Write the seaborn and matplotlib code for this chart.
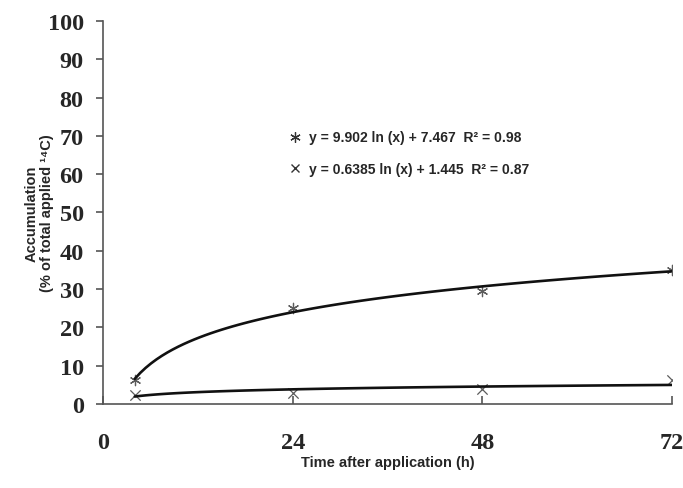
import matplotlib
matplotlib.use("Agg")
import matplotlib.pyplot as plt
import numpy as np
import pandas as pd
import seaborn as sns
from matplotlib.lines import Line2D

sns.set_style("white")

hours = [4, 24, 48, 72]
upper = [6.3, 25.0, 29.5, 35.0]
lower = [2.4, 2.8, 3.8, 6.2]
eq_upper = "y = 9.902 ln (x) + 7.467  R² = 0.98"
eq_lower = "y = 0.6385 ln (x) + 1.445  R² = 0.87"
xticks = [0, 24, 48, 72]
yticks = list(range(0, 101, 10))

df = pd.DataFrame({"h": hours, "upper": upper, "lower": lower})

fig = plt.figure(figsize=(6.83, 4.89), dpi=100)
ax = fig.add_axes([0.151, 0.172, 0.833, 0.783])

star = (6, 2, 0)
for col, mk in [("upper", star), ("lower", "x")]:
    sns.regplot(data=df, x="h", y=col, logx=True, ci=None, ax=ax,
                marker=mk, color="#111111",
                scatter_kws={"s": 55, "linewidths": 0.9, "color": "#333333"},
                line_kws={"lw": 1.9, "color": "#111111"})

ax.set_xlim(0, 72)
ax.set_ylim(0, 100)
ax.set_xticks(xticks)
ax.set_yticks(yticks)
for s in ["top", "right"]:
    ax.spines[s].set_visible(False)
for s in ["left", "bottom"]:
    ax.spines[s].set_color("#555555")
    ax.spines[s].set_linewidth(1.2)

tfont = {"family": "Liberation Serif", "weight": "bold", "size": 17.5}
ax.set_xticklabels([str(t) for t in xticks], fontdict=tfont)
ax.set_yticklabels([str(t) for t in yticks], fontdict=tfont)
ax.tick_params(axis="y", direction="out", length=5, width=1.2, color="#555555", pad=9, left=True)
ax.tick_params(axis="x", direction="in", length=6, width=1.2, color="#555555", pad=20, bottom=True)

lfont = {"family": ["Liberation Sans", "DejaVu Sans"], "weight": "bold", "size": 10.5}
ax.set_xlabel("Time after application (h)", fontdict=lfont, labelpad=2)
ax.set_ylabel("Accumulation\n(% of total applied ¹⁴C)", fontdict=lfont,
              linespacing=1.05)
ax.yaxis.set_label_coords(-0.087, 0.5)

handles = [Line2D([], [], ls="none", marker=star, color="#333333", ms=7.5, mew=0.9),
           Line2D([], [], ls="none", marker="x", color="#333333", ms=6, mew=1.0)]
ax.legend(handles, [eq_upper, eq_lower], loc="center left",
          bbox_to_anchor=(0.30, 0.655), frameon=False, handletextpad=0.4,
          handlelength=1.2, labelspacing=1.25,
          prop={"family": "Liberation Sans", "weight": "bold", "size": 10})

fig.savefig("out.png", dpi=100)
